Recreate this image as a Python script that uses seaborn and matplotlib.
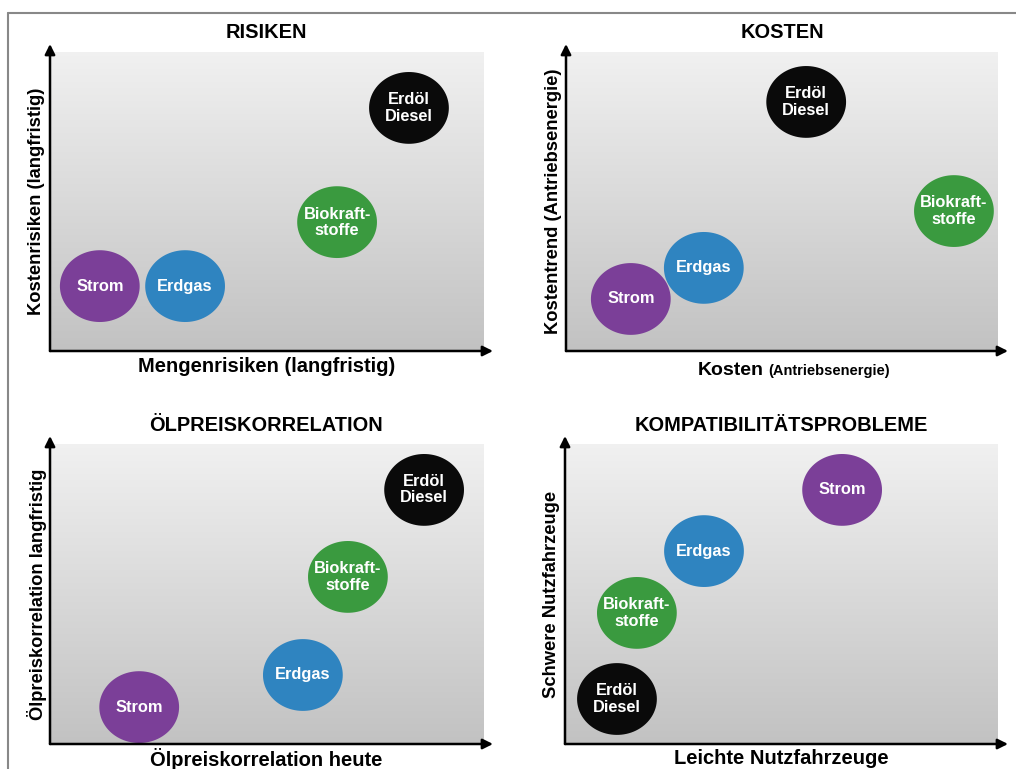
import numpy as np
import pandas as pd
import matplotlib.pyplot as plt
import seaborn as sns
from matplotlib.path import Path
from matplotlib.lines import Line2D

sns.set_theme(style='white')
plt.rcParams['font.family'] = ['Liberation Sans', 'DejaVu Sans']
plt.rcParams['font.weight'] = 'bold'

# Energietraeger und Farben
traeger = ['Strom', 'Erdgas', 'Biokraftstoffe', 'Erdöl Diesel']
beschriftung = ['Strom', 'Erdgas', 'Biokraft-\nstoffe', 'Erdöl\nDiesel']
farben = ['#7b3f98', '#2f84c0', '#3a9a3f', '#0a0a0a']

# Position (0-100) je Diagramm, Reihenfolge wie traeger
risiken_x = [11.5, 31.2, 66.3, 82.9]
risiken_y = [21.7, 21.7, 43.1, 81.3]
kosten_x = [15.0, 31.9, 89.8, 55.6]
kosten_y = [17.4, 27.8, 46.8, 83.3]
oel_x = [20.6, 58.4, 68.8, 86.4]
oel_y = [12.3, 23.0, 55.7, 84.7]
kompat_x = [64.0, 32.1, 16.6, 12.0]
kompat_y = [84.7, 64.3, 43.7, 15.0]

titel = ['RISIKEN', 'KOSTEN', 'ÖLPREISKORRELATION', 'KOMPATIBILITÄTSPROBLEME']
y_labels = ['Kostenrisiken (langfristig)', 'Kostentrend (Antriebsenergie)',
            'Ölpreiskorrelation langfristig', 'Schwere Nutzfahrzeuge']
x_labels = ['Mengenrisiken (langfristig)', None,
            'Ölpreiskorrelation heute', 'Leichte Nutzfahrzeuge']

daten = [(risiken_x, risiken_y), (kosten_x, kosten_y),
         (oel_x, oel_y), (kompat_x, kompat_y)]

W, H = 1016, 769
# Achsenboxen in Pixeln: links, oben, rechts, unten
boxen = [(50, 52, 483, 351), (566, 52, 998, 351),
         (50, 444, 483, 744), (565, 444, 998, 744)]

# Ellipse als Marker (etwas breiter als hoch)
t = np.linspace(0, 2 * np.pi, 100)
ellipse = Path(np.column_stack([np.cos(t), 0.9 * np.sin(t)]))

fig = plt.figure(figsize=(W / 100, H / 100), dpi=100)
fig.patch.set_facecolor('white')

# Rahmen
fig.add_artist(Line2D([8 / W, 1], [1 - 13 / H, 1 - 13 / H], color='#888888', lw=1.5))
fig.add_artist(Line2D([8 / W, 8 / W], [0, 1 - 13 / H], color='#888888', lw=1.5))

# Verlauf: oben weiss, unten grau
verlauf = np.linspace(0, 1, 256).reshape(-1, 1)
grau = sns.light_palette('#c2c2c2', as_cmap=True)

for i, (x, y) in enumerate(daten):
    l, o, r, u = boxen[i]
    ax = fig.add_axes([l / W, 1 - u / H, (r - l) / W, (u - o) / H])
    ax.imshow(verlauf, cmap=grau, origin='upper', extent=[0, 100, 0, 100],
              aspect='auto', zorder=0, vmin=0, vmax=1)
    df = pd.DataFrame({'x': x, 'y': y, 'traeger': traeger})
    sns.scatterplot(data=df, x='x', y='y', hue='traeger', palette=farben,
                    marker=ellipse, s=3300, linewidth=0, legend=False, ax=ax, zorder=3)
    for xi, yi, txt in zip(x, y, beschriftung):
        ax.text(xi, yi, txt, color='white', fontsize=11.8, fontweight='bold',
                ha='center', va='center', linespacing=1.1, zorder=4)
    ax.set_xlim(0, 100)
    ax.set_ylim(0, 100)
    ax.set_xticks([])
    ax.set_yticks([])
    ax.set_xlabel('')
    ax.set_ylabel('')
    for s in ax.spines.values():
        s.set_visible(False)

    # Achsenpfeile
    breite = (r - l)
    hoehe = (u - o)
    ax.annotate('', xy=(1 + 10 / breite, 0), xytext=(0, 0), xycoords='axes fraction',
                arrowprops=dict(arrowstyle='-|>', color='black', lw=1.8,
                                mutation_scale=15, shrinkA=0, shrinkB=0),
                annotation_clip=False, zorder=5)
    ax.annotate('', xy=(0, 1 + 8 / hoehe), xytext=(0, 0), xycoords='axes fraction',
                arrowprops=dict(arrowstyle='-|>', color='black', lw=1.8,
                                mutation_scale=15, shrinkA=0, shrinkB=0),
                annotation_clip=False, zorder=5)

    mitte_x = (l + r) / 2
    fig.text(mitte_x / W, 1 - (o - 19) / H, titel[i], fontsize=14.4, fontweight='bold',
             ha='center', va='center', color='black')
    fig.text((l - 13) / W, 1 - ((o + u) / 2) / H, y_labels[i], fontsize=13.2,
             fontweight='bold', rotation=90, ha='center', va='center', color='black')
    if x_labels[i] is not None:
        fig.text(mitte_x / W, 1 - (u + 15) / H, x_labels[i], fontsize=14.5,
                 fontweight='bold', ha='center', va='center', color='black')
    else:
        fig.text(764 / W, 1 - 375 / H, 'Kosten', fontsize=14, fontweight='bold',
                 ha='right', va='baseline', color='black')
        fig.text(768 / W, 1 - 375 / H, '(Antriebsenergie)', fontsize=10.5,
                 fontweight='bold', ha='left', va='baseline', color='black')

fig.savefig('out.png', dpi=100)
